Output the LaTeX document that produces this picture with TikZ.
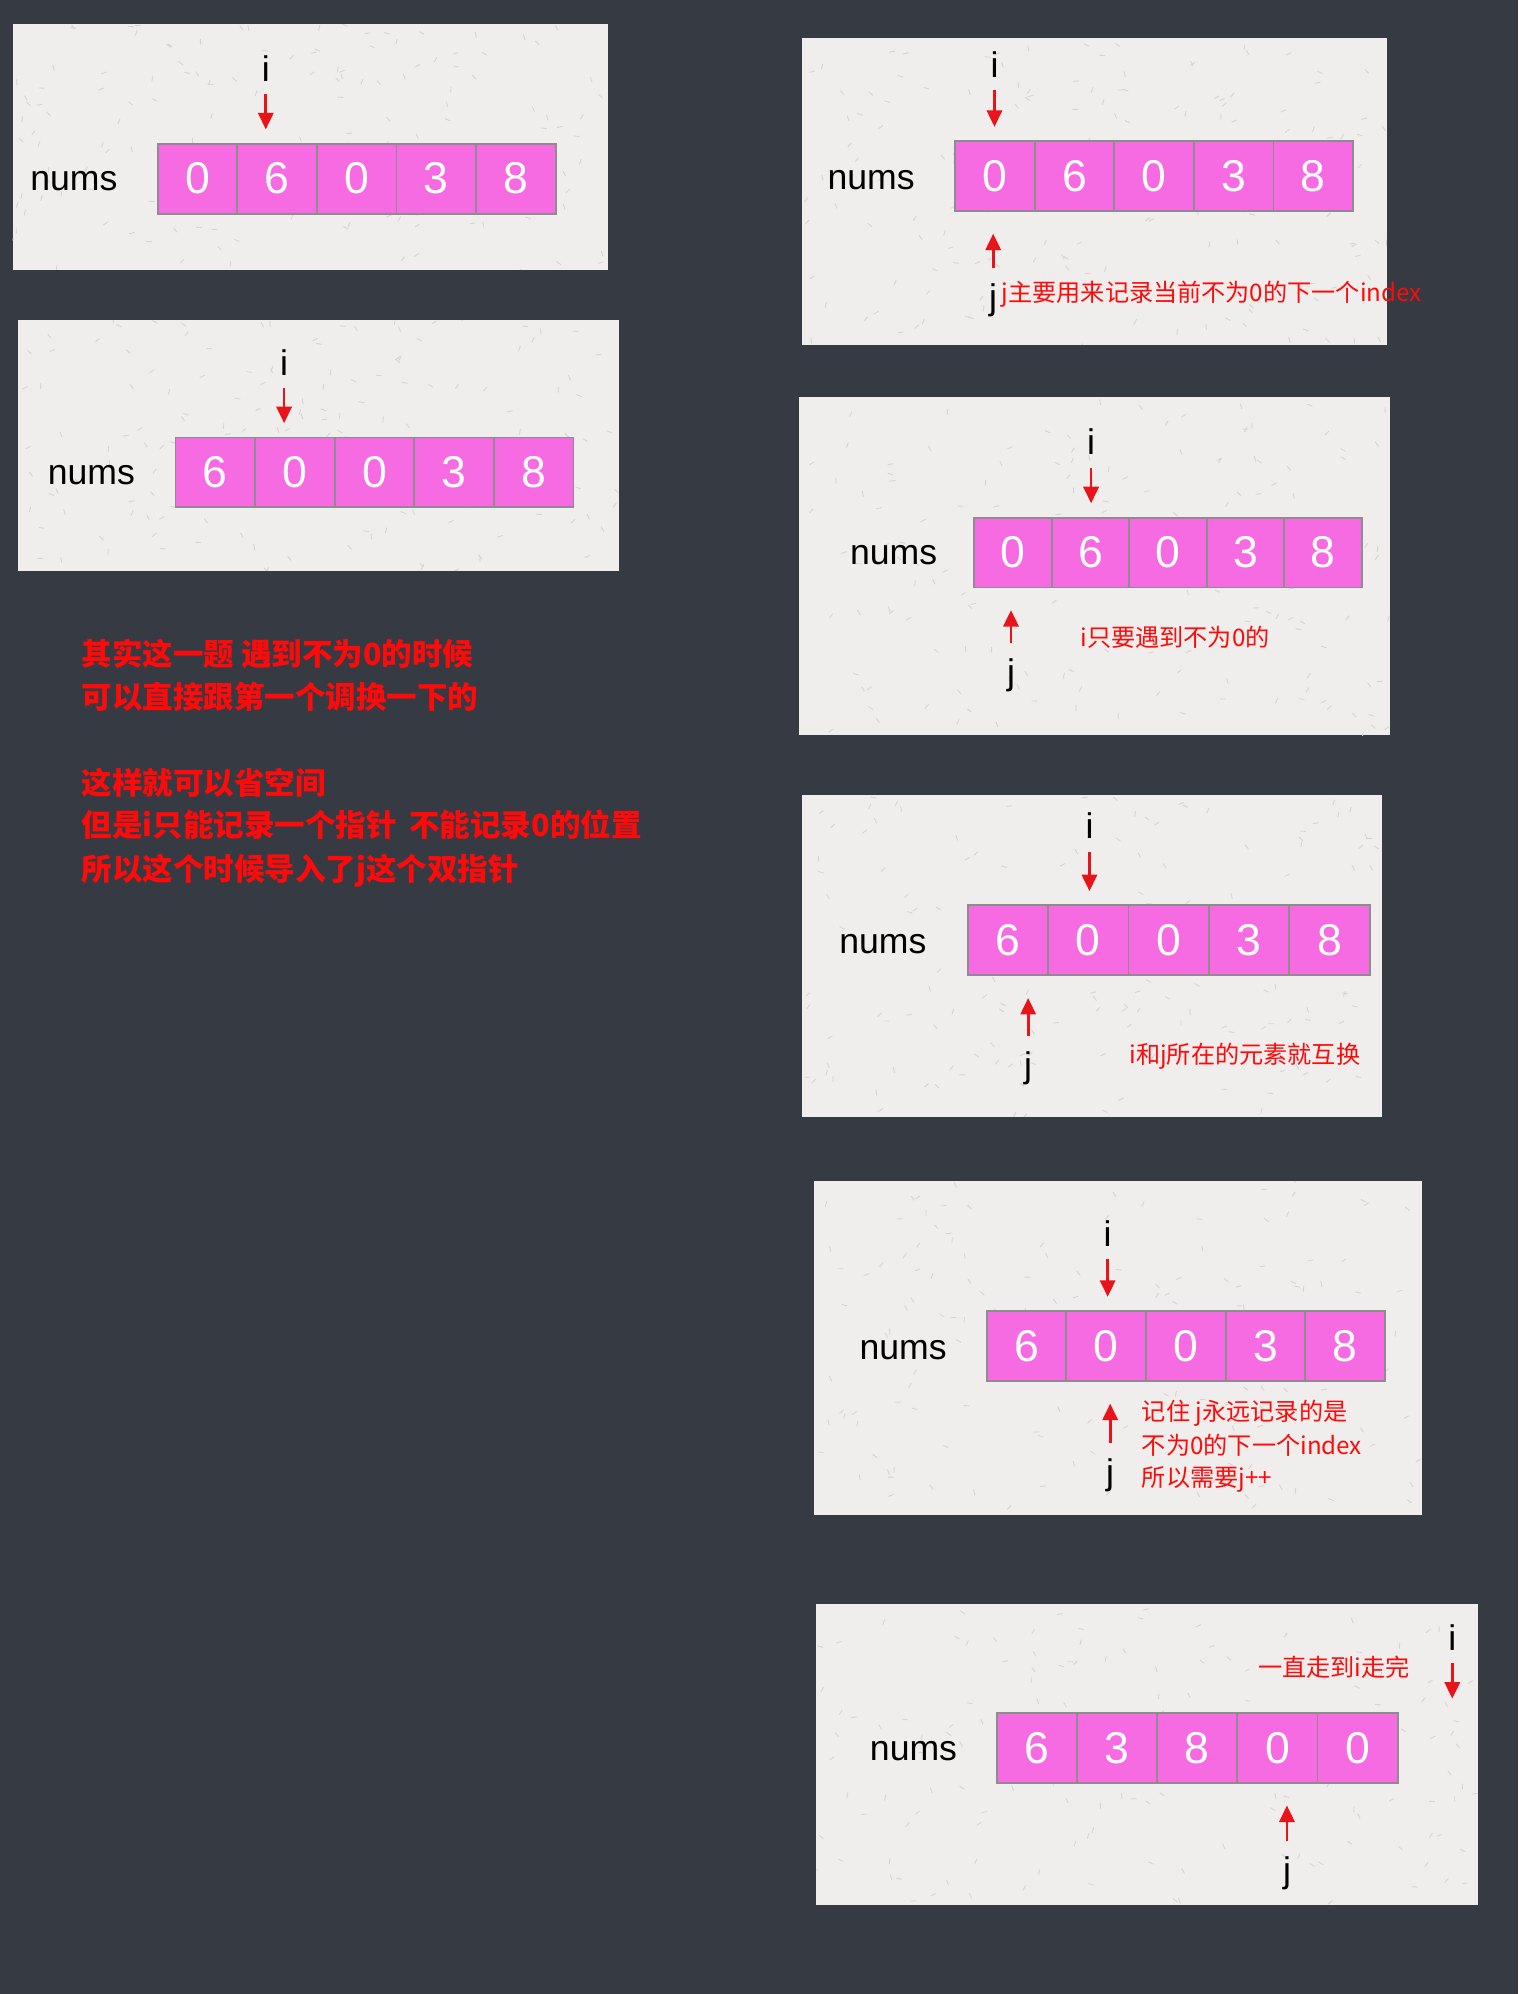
\documentclass[tikz,border=0pt]{standalone}
\usepackage{fontspec}
\setmainfont{Liberation Sans}
\newfontfamily\cjk{Noto Sans CJK SC}
\usetikzlibrary{arrows.meta}
\definecolor{darkbg}{HTML}{363A42}
\definecolor{paper}{HTML}{EFEEEC}
\definecolor{fleckc}{HTML}{D6D4D0}
\definecolor{cellpink}{HTML}{F76BE2}
\definecolor{cellline}{HTML}{8E8C8E}
\definecolor{ptrred}{HTML}{E8141A}
\definecolor{txtred}{HTML}{FF0A0A}
\tikzset{
  cell/.style={draw=cellline, fill=cellpink, line width=1.5pt, inner sep=0pt,
    text=white, font=\fontsize{35}{35}\selectfont, minimum height=55pt},
  numslbl/.style={font=\fontsize{28}{28}\selectfont, inner sep=0pt, anchor=base west, text=black},
  ptrlbl/.style={font=\fontsize{28}{28}\selectfont, inner sep=0pt, anchor=base, text=black},
  ptr/.style={draw=ptrred, line width=2.1pt, -{Triangle[length=13pt,width=12pt]}},
  note/.style={font=\cjk\fontsize{19}{19}\selectfont, text=txtred, inner sep=0pt, anchor=base west},
  bignote/.style={font=\cjk\bfseries\fontsize{24}{24}\selectfont, text=txtred, inner sep=0pt, anchor=base west},
  fleck/.style={draw=fleckc, line width=0.7pt, line cap=round}
}
\newcommand\cellrow[5]{%
  \foreach \v [count=\k] in {#5}{%
    \node[cell, minimum width=#4pt] (#1\k) at ({#2+(\k-0.5)*#4},{#3+27.5}) {\v};}}
\newcommand\paperpanel[4]{%
  \fill[paper] (#1,#2) rectangle (#3,#4);
  \begin{scope}
    \clip (#1,#2) rectangle (#3,#4);
    \foreach \n in {1,...,160}{%
      \pgfmathsetmacro\px{#1+rnd*(#3-#1)}%
      \pgfmathsetmacro\py{#2+rnd*(#4-#2)}%
      \pgfmathsetmacro\pa{rnd*360}%
      \draw[fleck] (\px,\py) -- ++(\pa:4);}
  \end{scope}}
\begin{document}
\begin{tikzpicture}[x=1pt,y=-1pt]
\pgfmathsetseed{11}
\fill[darkbg] (0,0) rectangle (1194,1568);
\useasboundingbox (0,0) rectangle (1194,1568);

% ---------- panel 1
\paperpanel{10}{19}{478}{212}
\cellrow{a}{124}{113}{62.6}{0,6,0,3,8}
\node[numslbl] (na) at (23.6,150) {nums};
\node[ptrlbl] (ia) at (209,64) {i};
\draw[ptr, shorten >=10.5pt] ([yshift=-10pt]ia.base) -- (ia.base |- a2.north);

% ---------- panel 2
\paperpanel{14}{252}{487}{449}
\cellrow{b}{138}{344}{62.6}{6,0,0,3,8}
\node[numslbl] (nb) at (37.4,381) {nums};
\node[ptrlbl] (ib) at (223.4,295.4) {i};
\draw[ptr, shorten >=10.5pt] ([yshift=-10pt]ib.base) -- (ib.base |- b2.north);

% ---------- left notes
\node[bignote] (L1) at (64,523) {其实这一题 遇到不为0的时候};
\node[bignote] (L2) at (64,557) {可以直接跟第一个调换一下的};
\node[bignote] (L3) at (64,624.5) {这样就可以省空间};
\node[bignote] (L4) at (64,658) {但是i只能记录一个指针\hspace{10pt}不能记录0的位置};
\node[bignote] (L5) at (64,692) {所以这个时候导入了j这个双指针};

% ---------- panel 3
\paperpanel{631}{30}{1091}{271}
\cellrow{c}{751}{111}{62.6}{0,6,0,3,8}
\node[numslbl] (nc) at (650.6,148.7) {nums};
\node[ptrlbl] (ic) at (782,61) {i};
\draw[ptr, shorten >=10.5pt] ([yshift=-10pt]ic.base) -- (ic.base |- c1.north);
\node[ptrlbl] (jc) at (781,243) {j};
\draw[ptr, shorten >=17pt] ([yshift=32pt]jc.base) -- (jc.base |- c1.south);
\node[note] (tc) at (787.5,237) {j主要用来记录当前不为0的下一个index};

% ---------- panel 4
\paperpanel{628}{312}{1093}{578}
\cellrow{d}{766}{407}{61}{0,6,0,3,8}
\node[numslbl] (nd) at (668.3,444) {nums};
\node[ptrlbl] (id) at (858,357.7) {i};
\draw[ptr, shorten >=10.5pt] ([yshift=-10pt]id.base) -- (id.base |- d2.north);
\node[ptrlbl] (jd) at (795,538) {j};
\draw[ptr, shorten >=17pt] ([yshift=32pt]jd.base) -- (jd.base |- d1.south);
\node[note] (td) at (849.4,508.5) {i只要遇到不为0的};

% ---------- panel 5
\paperpanel{631}{625}{1087}{878}
\cellrow{e}{761}{712}{63.2}{6,0,0,3,8}
\node[numslbl] (ne) at (659.8,749.5) {nums};
\node[ptrlbl] (ie) at (856.7,659.6) {i};
\draw[ptr, shorten >=10.5pt] ([yshift=-10pt]ie.base) -- (ie.base |- e2.north);
\node[ptrlbl] (je) at (808.5,847) {j};
\draw[ptr, shorten >=17pt] ([yshift=32pt]je.base) -- (je.base |- e1.south);
\node[note] (te) at (888,836) {i和j所在的元素就互换};

% ---------- panel 6
\paperpanel{640}{929}{1118}{1191}
\cellrow{f}{776}{1031}{62.6}{6,0,0,3,8}
\node[numslbl] (nf) at (675.7,1069) {nums};
\node[ptrlbl] (iff) at (871,980) {i};
\draw[ptr, shorten >=10.5pt] ([yshift=-10pt]iff.base) -- (iff.base |- f2.north);
\node[ptrlbl] (jf) at (873,1167) {j};
\draw[ptr, shorten >=17pt] ([yshift=32pt]jf.base) -- (jf.base |- f2.south);
\node[note] (tf1) at (897.8,1117) {记住 j永远记录的是};
\node[note] (tf2) at (897.8,1144) {不为0的下一个index};
\node[note] (tf3) at (897.8,1169) {所以需要j++};

% ---------- panel 7
\paperpanel{642}{1261}{1162}{1498}
\cellrow{g}{784}{1347}{63}{6,3,8,0,0}
\node[numslbl] (ng) at (683.9,1384) {nums};
\node[ptrlbl] (ig) at (1142,1297.5) {i};
\draw[ptr, shorten >=10.5pt] ([yshift=-10pt]ig.base) -- (ig.base |- g5.north);
\node[ptrlbl] (jg) at (1012,1480) {j};
\draw[ptr, shorten >=17pt] ([yshift=32pt]jg.base) -- (jg.base |- g4.south);
\node[note] (tg) at (989.3,1318) {一直走到i走完};
\end{tikzpicture}
\end{document}
